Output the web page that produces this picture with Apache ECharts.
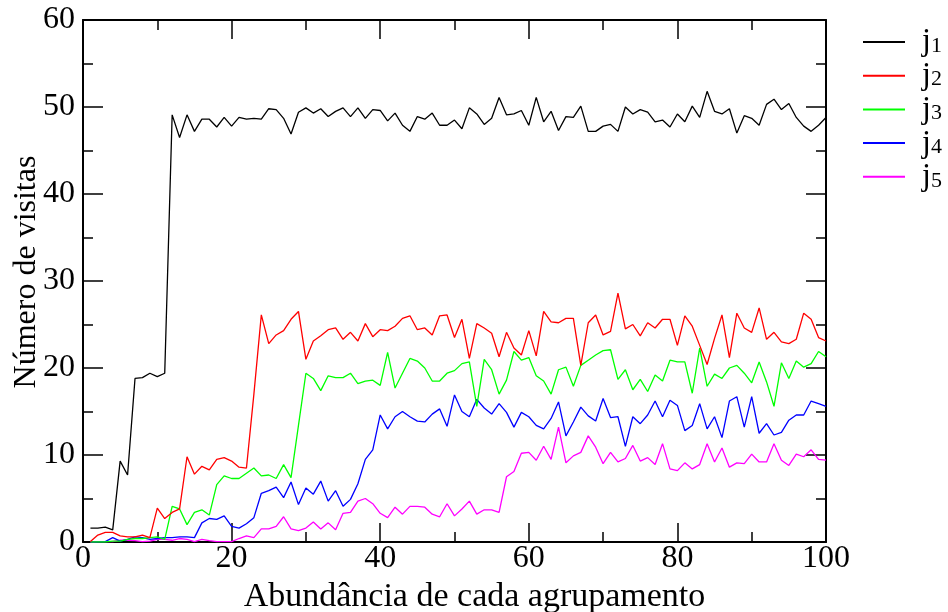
<!DOCTYPE html>
<html>
<head>
<meta charset="utf-8">
<script src="https://cdn.jsdelivr.net/npm/echarts@6/dist/echarts.min.js"></script>
<style>html,body{margin:0;padding:0;background:#fff;}#c{width:948px;height:612px;}</style>
</head>
<body>
<div id="c"></div>
<script>
const xValues = [1,2,3,4,5,6,7,8,9,10,11,12,13,14,15,16,17,18,19,20,21,22,23,24,25,26,27,28,29,30,31,32,33,34,35,36,37,38,39,40,41,42,43,44,45,46,47,48,49,50,51,52,53,54,55,56,57,58,59,60,61,62,63,64,65,66,67,68,69,70,71,72,73,74,75,76,77,78,79,80,81,82,83,84,85,86,87,88,89,90,91,92,93,94,95,96,97,98,99,100];

const seriesNames = ['j1','j2','j3','j4','j5'];

const j1 = [1.6,1.6,1.7,1.4,9.3,7.7,18.8,18.9,19.4,19.0,
19.4,49.1,46.5,49.1,47.2,48.6,48.6,47.7,48.8,47.8,
48.8,48.6,48.7,48.6,49.8,49.7,48.7,46.9,49.4,49.9,
49.3,49.8,48.9,49.5,49.9,48.9,49.9,48.7,49.7,49.6,
48.4,49.3,47.9,47.2,48.9,48.6,49.3,47.9,47.9,48.5,
47.5,49.9,49.2,48.0,48.7,51.1,49.1,49.2,49.6,47.9,
51.1,48.3,49.5,47.3,48.9,48.8,50.1,47.2,47.2,47.8,
48.0,47.2,50.0,49.2,49.7,49.4,48.3,48.5,47.7,49.2,
48.3,50.1,48.8,51.8,49.5,49.2,49.8,47.0,49.0,48.7,
47.9,50.3,50.9,49.7,50.4,48.8,47.8,47.2,47.9,48.8];

const j2 = [0.05,0.8,1.1,1.1,0.7,0.6,0.6,0.8,0.5,3.9,
2.7,3.4,3.8,9.8,7.8,8.7,8.3,9.5,9.7,9.3,
8.6,8.5,17.0,26.1,22.8,23.8,24.3,25.6,26.5,21.0,
23.1,23.7,24.4,24.6,23.3,24.1,23.1,25.1,23.6,24.4,
24.3,24.8,25.7,26.0,24.4,24.6,23.8,26.0,26.1,23.5,
25.6,21.1,25.1,24.6,24.0,21.3,24.1,22.3,21.5,24.3,
21.4,26.5,25.3,25.2,25.7,25.7,20.3,25.2,26.1,23.8,
24.2,28.6,24.5,25.0,23.7,25.2,24.6,25.6,25.6,22.6,
26.0,24.8,22.6,20.4,23.4,26.1,21.2,26.3,24.6,24.1,
26.9,23.3,24.1,23.0,22.8,23.3,26.3,25.6,23.5,23.1];

const j3 = [0,0,0,0.1,0.1,0.3,0.4,0.4,0.5,0.6,
0.3,4.1,3.8,2.0,3.4,3.7,3.1,6.6,7.6,7.3,
7.3,7.9,8.5,7.6,7.7,7.3,8.9,7.4,13.4,19.4,
18.8,17.4,19.1,18.9,18.9,19.4,18.2,18.5,18.6,18.0,
21.8,17.7,19.4,21.1,20.8,20.0,18.5,18.5,19.4,19.7,
20.5,20.7,15.6,21.0,19.8,17.0,18.6,21.9,20.9,21.2,
19.1,18.5,17.0,19.8,20.1,17.9,20.3,20.9,21.5,22.0,
22.1,18.7,19.8,17.5,18.7,17.3,19.2,18.5,20.9,20.7,
20.7,17.1,22.3,17.9,19.3,18.8,20.0,20.3,19.4,18.3,
20.7,18.4,15.6,20.6,18.8,20.8,20.1,20.5,21.9,21.3];

const j4 = [0,0,0.05,0.5,0.1,0.3,0.6,0.5,0.3,0.4,
0.5,0.5,0.6,0.6,0.5,2.2,2.7,2.6,3.0,1.8,
1.6,2.1,2.8,5.6,5.9,6.3,5.1,6.9,4.3,6.2,
5.5,7.0,4.7,5.9,4.1,4.9,6.7,9.5,10.6,14.6,
13.0,14.4,15.0,14.4,13.9,13.8,14.7,15.3,13.3,16.9,
15.0,14.4,16.4,15.4,14.7,15.9,14.9,13.2,14.9,14.4,
13.4,13.0,14.2,16.1,12.2,13.8,15.5,14.5,13.9,16.5,
14.3,14.4,11.0,14.4,13.6,14.6,16.2,14.4,16.3,15.7,
12.8,13.4,15.9,13.0,14.4,12.0,16.2,16.7,13.2,16.7,
12.5,13.6,12.3,12.6,14.0,14.6,14.6,16.2,15.9,15.6];

const j5 = [0,0.05,0.05,0.05,0.2,0.2,0.15,0.05,0.1,0.3,
0.3,0.2,0.4,0.3,0.05,0.3,0.15,0.05,0.05,0.05,
0.4,0.7,0.5,1.5,1.5,1.8,2.9,1.5,1.3,1.6,
2.3,1.5,2.2,1.4,3.3,3.4,4.7,5.0,4.4,3.3,
2.8,4.0,3.2,4.1,4.1,4.0,3.2,2.9,4.4,3.0,
3.8,4.7,3.2,3.7,3.7,3.4,7.5,8.1,10.2,10.3,
9.4,11.0,9.5,13.2,9.1,9.9,10.3,12.2,10.9,9.0,
10.3,9.2,9.6,11.1,9.3,9.7,8.9,11.3,8.4,8.2,
9.1,8.4,8.9,11.3,9.2,10.8,8.6,9.1,9.0,10.1,
9.2,9.2,11.3,9.4,8.8,10.1,9.8,10.6,9.5,9.4];

const xTicks = [0,20,40,60,80,100];
const yTicks = [0,10,20,30,40,50,60];

const allSeries = [j1,j2,j3,j4,j5];
const colors = ['#000000','#ff0000','#00ff00','#0000ff','#ff00ff'];
const FONT = 'Liberation Serif';

const chart = echarts.init(document.getElementById('c'), null, {renderer:'canvas'});

function axisCommon(extra){
  return Object.assign({
    type:'value',
    axisLine:{show:true, onZero:false, lineStyle:{color:'#000', width:2}},
    splitLine:{show:false},
    minorSplitLine:{show:false},
  }, extra);
}

const option = {
  animation:false,
  backgroundColor:'#fff',
  grid:{left:83, top:20, right:122, bottom:70, containLabel:false, outerBoundsMode:'none'},
  legend:{
    orient:'vertical',
    left:858, top:20,
    itemWidth:42, itemHeight:2, itemGap:0.7,
    icon:'rect',
    data:seriesNames,
    formatter:function(n){ return '{j|j}{s|' + n.slice(1) + '}'; },
    textStyle:{
      rich:{
        j:{fontFamily:FONT, fontSize:32, color:'#000', lineHeight:30, padding:[0,0,0,12]},
        s:{fontFamily:FONT, fontSize:22, color:'#000', lineHeight:30, verticalAlign:'bottom', padding:[10,0,0,0]}
      }
    }
  },
  xAxis:[
    axisCommon({
      position:'bottom', min:0, max:100, interval:20,
      axisTick:{show:true, inside:true, length:19, lineStyle:{color:'#000', width:1.5}},
      minorTick:{show:true, splitNumber:2, length:10, lineStyle:{color:'#000', width:1.5}},
      axisLabel:{color:'#000', fontFamily:FONT, fontSize:32, margin:1,
        formatter:function(v){ return xTicks.indexOf(v) >= 0 ? String(v) : ''; }},
      name:'Abundância de cada agrupamento', nameLocation:'middle', nameGap:32,
      nameTextStyle:{color:'#000', fontFamily:FONT, fontSize:34, padding:[0,0,0,40]}
    }),
    axisCommon({
      position:'top', min:0, max:100, interval:20,
      axisTick:{show:true, inside:true, length:19, lineStyle:{color:'#000', width:1.5}},
      minorTick:{show:true, splitNumber:2, length:10, lineStyle:{color:'#000', width:1.5}},
      axisLabel:{show:false}
    })
  ],
  yAxis:[
    axisCommon({
      position:'left', min:0, max:60, interval:10,
      axisTick:{show:true, inside:true, length:20, lineStyle:{color:'#000', width:1.5}},
      minorTick:{show:true, splitNumber:2, length:10, lineStyle:{color:'#000', width:1.5}},
      axisLabel:{color:'#000', fontFamily:FONT, fontSize:32, margin:8,
        formatter:function(v){ return yTicks.indexOf(v) >= 0 ? String(v) : ''; }},
      name:'Número de visitas', nameLocation:'middle', nameGap:40, nameRotate:90,
      nameMoveOverlap:false,
      nameTextStyle:{color:'#000', fontFamily:FONT, fontSize:32, padding:[0,0,0,18]}
    }),
    axisCommon({
      position:'right', min:0, max:60, interval:10,
      axisTick:{show:true, inside:true, length:20, lineStyle:{color:'#000', width:1.5}},
      minorTick:{show:true, splitNumber:2, length:10, lineStyle:{color:'#000', width:1.5}},
      axisLabel:{show:false}
    })
  ],
  series: seriesNames.map(function(name, k){
    return {
      name:name, type:'line', xAxisIndex:0, yAxisIndex:0,
      data: xValues.map(function(x, i){ return [x, allSeries[k][i]]; }),
      showSymbol:false, symbol:'none', smooth:false,
      color:colors[k],
      lineStyle:{color:colors[k], width:1.3},
      itemStyle:{color:colors[k]},
      emphasis:{disabled:true},
      z: 10 - k
    };
  })
};
chart.setOption(option);
</script>
</body>
</html>
